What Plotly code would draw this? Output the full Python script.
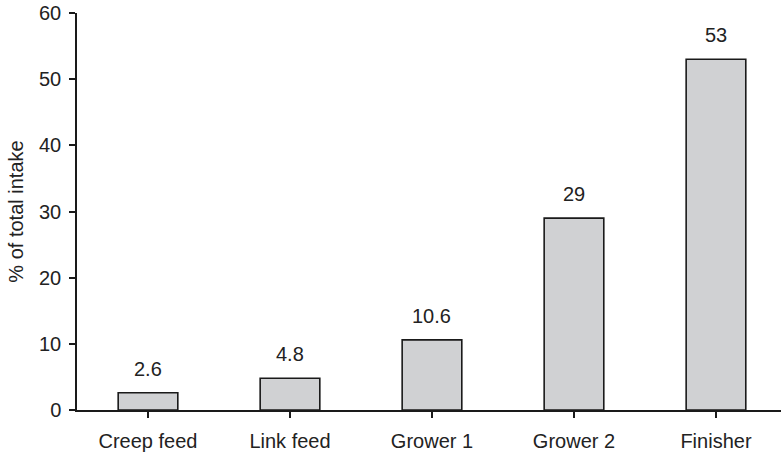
import plotly.graph_objects as go

categories = ["Creep feed", "Link feed", "Grower 1", "Grower 2", "Finisher"]
values = [2.6, 4.8, 10.6, 29, 53]
labels = ["2.6", "4.8", "10.6", "29", "53"]
y_ticks = [0, 10, 20, 30, 40, 50, 60]

FONT = "Liberation Sans, Arial, sans-serif"
FS = 20

fig = go.Figure()
fig.add_trace(go.Bar(
    x=list(range(len(categories))), y=values,
    width=0.42,
    marker=dict(color="rgb(208,209,211)", line=dict(color="#1a1a1a", width=1.6)),
    hoverinfo="skip",
))

for i, (v, t) in enumerate(zip(values, labels)):
    fig.add_annotation(x=i, y=v, text=t, showarrow=False, yanchor="bottom",
                       yshift=11, font=dict(family=FONT, size=FS, color="#222"))

fig.update_layout(
    width=781, height=454,
    margin=dict(l=77, r=0, t=13, b=44, autoexpand=False),
    plot_bgcolor="white", paper_bgcolor="white",
    showlegend=False,
    font=dict(family=FONT, size=FS, color="#222"),
    xaxis=dict(
        tickmode="array", tickvals=list(range(len(categories))), ticktext=categories,
        range=[-0.5, 4.458], tickson="boundaries", ticks="outside", ticklen=6,
        tickcolor="#1a1a1a", tickwidth=1.5, automargin=False,
        showline=True, linecolor="#1a1a1a", linewidth=1.5,
        showgrid=False, zeroline=False, ticklabelstandoff=6,
        tickfont=dict(family=FONT, size=FS, color="#222"),
    ),
    yaxis=dict(
        range=[0, 60], tickvals=y_ticks, ticks="outside", ticklen=6,
        tickcolor="#1a1a1a", tickwidth=1.5, automargin=False,
        showline=True, linecolor="#1a1a1a", linewidth=1.5,
        showgrid=False, zeroline=False, ticklabelstandoff=4,
        tickfont=dict(family=FONT, size=FS, color="#222"),
        title=dict(text="% of total intake", font=dict(family=FONT, size=FS, color="#222"), standoff=10),
    ),
)

fig.write_html(
    "out.html",
    config={"displayModeBar": False},
    post_script="document.body.style.margin='0';document.body.style.overflow='hidden';",
)
